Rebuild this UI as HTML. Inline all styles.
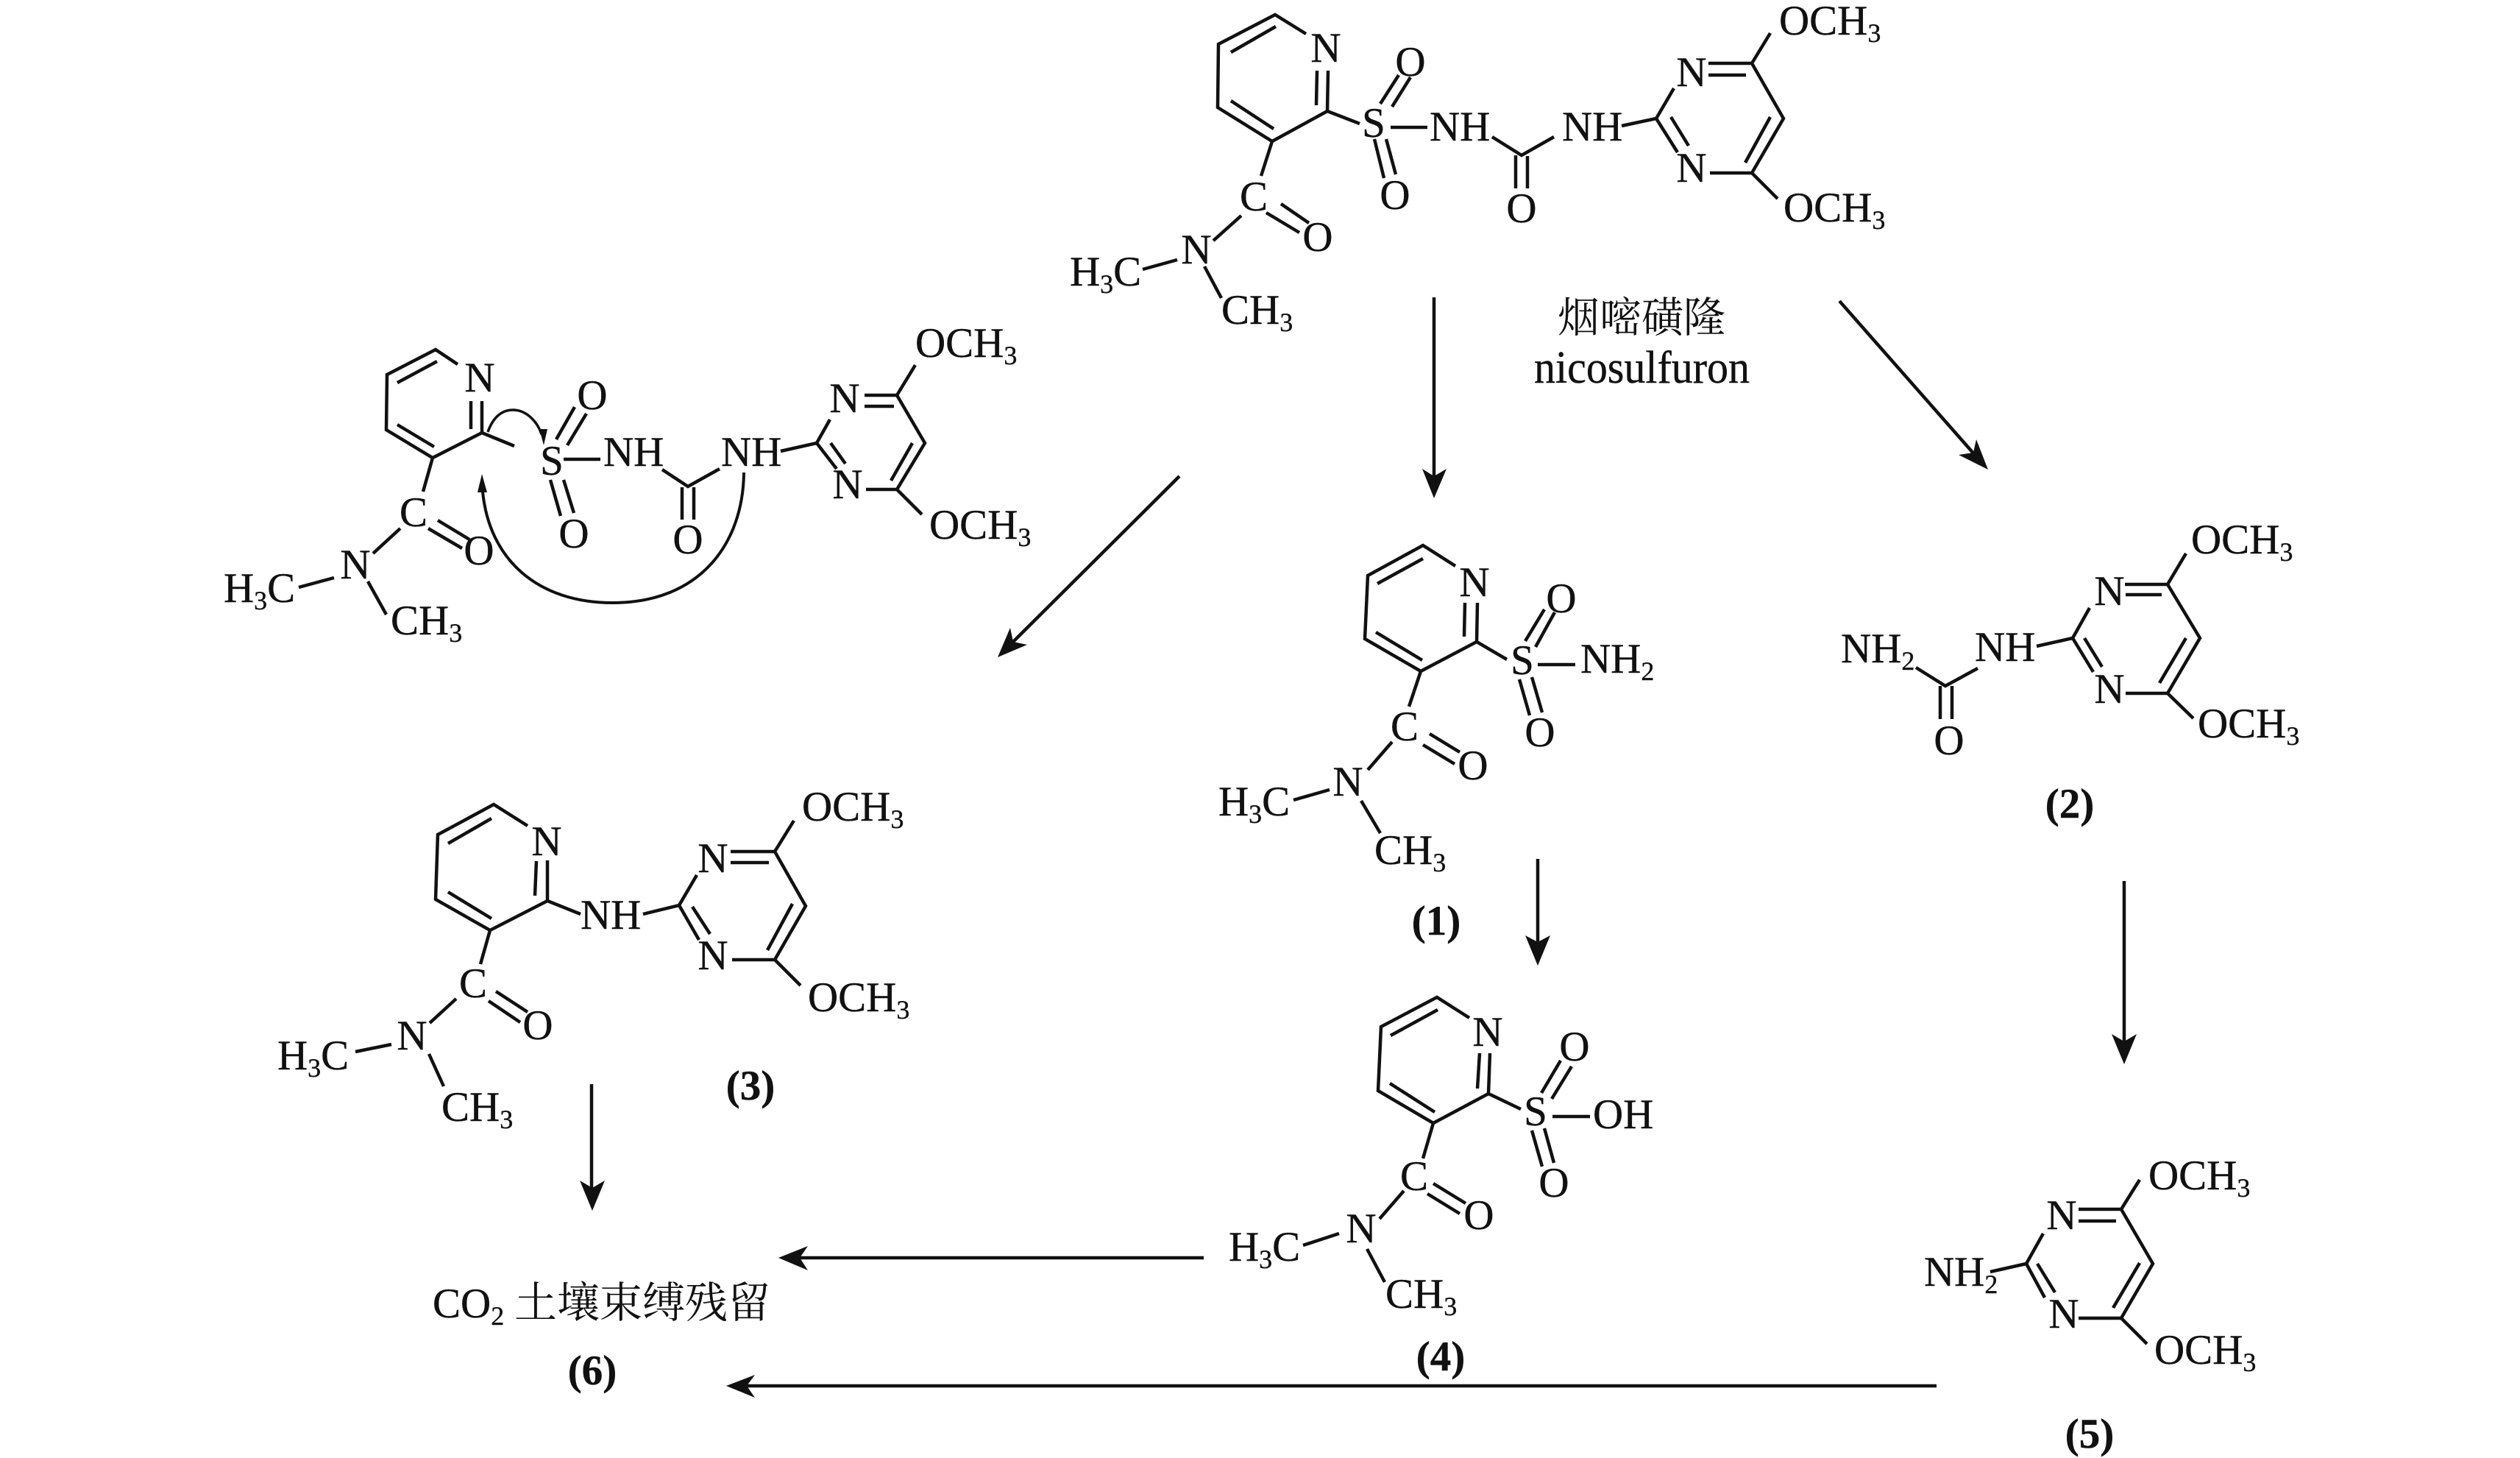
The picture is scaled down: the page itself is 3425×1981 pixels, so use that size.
<!DOCTYPE html>
<html lang="zh">
<head>
<meta charset="utf-8">
<title>nicosulfuron degradation pathway</title>
<style>
html,body{margin:0;padding:0;background:#fff;width:3425px;height:1981px;overflow:hidden}
svg{display:block}
text{font-family:"Liberation Serif","Noto Serif CJK SC",serif;font-size:57px;fill:#111;stroke:#111;stroke-width:.4px}
.m{text-anchor:middle}
.b{font-weight:bold;text-anchor:middle}
.s{font-size:36px}
.cjk{font-family:"Liberation Serif","Noto Serif CJK SC",serif;font-size:57px;stroke:none}
path.l{fill:none;stroke:#111;stroke-width:4.5;stroke-linecap:butt;stroke-linejoin:miter}
polygon{fill:#111}
</style>
</head>
<body>
<svg xmlns="http://www.w3.org/2000/svg" width="3425" height="1981" viewBox="0 0 3425 1981">
<rect width="3425" height="1981" fill="#fff"/>

<!-- Nicosulfuron -->
<path class="l" d="M1775 46L1733 20L1656 60L1655 146L1729 192L1804 151L1805 96M1734 36L1673 71M1673 137L1731 175M1790 96L1789 143
M1804 151L1848 168M1876 141L1901 102M1892 145L1917 105M1868 189L1881 242M1884 189L1897 237M1890 173L1940 173
M2028 186L2068 211L2112 186M2060 211L2060 256M2076 212L2076 256M2204 171L2251 161L2275 120M2322 86L2381 86L2424 161L2381 235L2324 235M2322 102L2373 102M2406 159L2372 221M2251 161L2280 207M2271 159L2295 198
M2381 86L2406 45M2381 235L2416 270
M1729 192L1714 239M1741 277L1779 303M1721 289L1766 316M1687 293L1649 327M1600 353L1553 366M1637 362L1660 405"/>
<text class="m" x="1802" y="84">N</text>
<text class="m" x="1867" y="186">S</text>
<text class="m" x="1917" y="103">O</text>
<text class="m" x="1896" y="284">O</text>
<text x="1943" y="191">NH</text>
<text x="2123" y="191">NH</text>
<text class="m" x="2068" y="302">O</text>
<text class="m" x="2299" y="117">N</text>
<text class="m" x="2299" y="247">N</text>
<text x="2418" y="47">OCH<tspan class="s" dy="10">3</tspan></text>
<text x="2424" y="301">OCH<tspan class="s" dy="10">3</tspan></text>
<text class="m" x="1704" y="286">C</text>
<text class="m" x="1791" y="341">O</text>
<text class="m" x="1626" y="358">N</text>
<text x="1454" y="388">H<tspan class="s" dy="10">3</tspan><tspan dy="-10">C</tspan></text>
<text x="1660" y="440">CH<tspan class="s" dy="10">3</tspan></text>
<text class="cjk" x="2117" y="451">烟嘧磺隆</text>
<text x="2085" y="520" style="font-size:62px" textLength="293" lengthAdjust="spacingAndGlyphs">nicosulfuron</text>

<!-- Intermediate with rearrangement -->
<path class="l" d="M622 495L592 475L526 509L525 584L588 622L655 588L655 545M594 491L540 520M540 577L590 607M640 583L640 545M655 588L699 606
M756 597L781 553M771 605L797 562M748 652L762 701M766 652L780 697M766 624L816 624
M900 638L935 661L978 637M927 662L927 706M943 662L943 706M1061 613L1110 602L1128 570M1175 537L1219 537L1257 602L1219 665L1177 665M1175 552L1215 552M1240 602L1211 653M1110 602L1137 637M1129 602L1149 630
M1219 537L1244 496M1219 665L1253 699
M588 622L575 668M595 707L638 733M582 718L628 745M544 718L507 752M454 785L406 798M500 790L525 835"/>
<path class="l" style="stroke-width:3.5" d="M663 587C670 567 682 557 697 557C715 557 730 572 736 590"/>
<polygon points="739,605 733,583 744,583"/>
<path class="l" style="stroke-width:4" d="M1011 642C1010 740 950 819 833 819C730 819 665 760 656 668"/>
<polygon points="655,644 649,669 662,669"/>
<text class="m" x="652" y="532">N</text>
<text class="m" x="750" y="645">S</text>
<text class="m" x="805" y="556">O</text>
<text class="m" x="780" y="744">O</text>
<text x="820" y="633">NH</text>
<text x="980" y="633">NH</text>
<text class="m" x="935" y="752">O</text>
<text class="m" x="1148" y="560">N</text>
<text class="m" x="1152" y="677">N</text>
<text x="1244" y="485">OCH<tspan class="s" dy="10">3</tspan></text>
<text x="1263" y="732">OCH<tspan class="s" dy="10">3</tspan></text>
<text class="m" x="562" y="715">C</text>
<text class="m" x="651" y="767">O</text>
<text class="m" x="483" y="786">N</text>
<text x="304" y="818">H<tspan class="s" dy="10">3</tspan><tspan dy="-10">C</tspan></text>
<text x="531" y="862">CH<tspan class="s" dy="10">3</tspan></text>

<!-- (1) -->
<path class="l" d="M1978 769L1934 741L1859 782L1855 868L1931 912L2007 872L2008 819M1934 759L1872 793M1870 859L1933 897M1991 819L1990 865
M2007 872L2048 896M2073 871L2099 828M2087 879L2113 832M2065 923L2079 972M2082 920L2096 968M2090 903L2141 903
M1931 912L1915 960M1943 997L1984 1022M1934 1012L1977 1038M1892 1008L1859 1046M1807 1073L1758 1087M1850 1088L1876 1132"/>
<text class="m" x="2004" y="810">N</text>
<text class="m" x="2069" y="916">S</text>
<text class="m" x="2122" y="832">O</text>
<text class="m" x="2093" y="1014">O</text>
<text x="2148" y="914">NH<tspan class="s" dy="10">2</tspan></text>
<text class="m" x="1909" y="1006">C</text>
<text class="m" x="2002" y="1059">O</text>
<text class="m" x="1832" y="1081">N</text>
<text x="1656" y="1108">H<tspan class="s" dy="10">3</tspan><tspan dy="-10">C</tspan></text>
<text x="1868" y="1174">CH<tspan class="s" dy="10">3</tspan></text>
<text class="b" x="1952" y="1270">(1)</text>

<!-- (2) -->
<path class="l" d="M2817 867L2840 826M2888 794L2946 794L2990 867L2946 942L2889 942M2889 808L2938 808M2971 867L2935 928M2817 867L2845 913M2833 867L2857 906
M2946 794L2971 752M2946 942L2981 976M2768 878L2817 867M2688 908L2644 932L2604 907M2637 932L2637 977M2653 932L2653 977"/>
<text class="m" x="2867" y="822">N</text>
<text class="m" x="2867" y="955">N</text>
<text x="2978" y="752">OCH<tspan class="s" dy="10">3</tspan></text>
<text x="2987" y="1002">OCH<tspan class="s" dy="10">3</tspan></text>
<text x="2684" y="898">NH</text>
<text class="m" x="2649" y="1025">O</text>
<text x="2502" y="900">NH<tspan class="s" dy="10">2</tspan></text>
<text class="b" x="2813" y="1111">(2)</text>

<!-- (3) -->
<path class="l" d="M717 1122L671 1093L595 1134L592 1222L666 1264L744 1224L744 1169M668 1112L609 1146M609 1212L668 1248M729 1170L727 1217
M744 1224L789 1242M874 1242L923 1230L947 1189M993 1157L1053 1157L1095 1231L1053 1304L995 1304M993 1172L1045 1172M1077 1228L1043 1291M923 1230L950 1277M941 1232L965 1269
M1053 1157L1079 1115M1053 1304L1088 1339
M666 1264L653 1310M674 1347L717 1375M664 1360L707 1389M620 1357L584 1390M532 1419L483 1429M583 1432L603 1476"/>
<text class="m" x="743" y="1162">N</text>
<text x="789" y="1262">NH</text>
<text class="m" x="969" y="1185">N</text>
<text class="m" x="969" y="1317">N</text>
<text x="1090" y="1115">OCH<tspan class="s" dy="10">3</tspan></text>
<text x="1098" y="1374">OCH<tspan class="s" dy="10">3</tspan></text>
<text class="m" x="643" y="1355">C</text>
<text class="m" x="731" y="1412">O</text>
<text class="m" x="560" y="1426">N</text>
<text x="377" y="1453">H<tspan class="s" dy="10">3</tspan><tspan dy="-10">C</tspan></text>
<text x="600" y="1523">CH<tspan class="s" dy="10">3</tspan></text>
<text class="b" x="1020" y="1494">(3)</text>

<!-- (4) -->
<path class="l" d="M1997 1383L1953 1355L1877 1395L1873 1482L1948 1526L2023 1486L2025 1431M1954 1372L1890 1407M1889 1472L1950 1511M2011 1431L2008 1479
M2023 1486L2067 1507M2095 1485L2121 1441M2109 1493L2136 1449M2082 1536L2096 1585M2099 1533L2112 1580M2110 1517L2161 1517
M1948 1526L1934 1574M1948 1608L1992 1635M1940 1622L1984 1649M1908 1618L1875 1656M1820 1676L1771 1692M1858 1697L1882 1742"/>
<text class="m" x="2022" y="1421">N</text>
<text class="m" x="2087" y="1529">S</text>
<text class="m" x="2140" y="1441">O</text>
<text class="m" x="2112" y="1626">O</text>
<text x="2165" y="1533">OH</text>
<text class="m" x="1922" y="1617">C</text>
<text class="m" x="2010" y="1670">O</text>
<text class="m" x="1850" y="1688">N</text>
<text x="1670" y="1713">H<tspan class="s" dy="10">3</tspan><tspan dy="-10">C</tspan></text>
<text x="1883" y="1777">CH<tspan class="s" dy="10">3</tspan></text>
<text class="b" x="1958" y="1862">(4)</text>

<!-- (5) -->
<path class="l" d="M2754 1717L2777 1676M2825 1643L2883 1643L2926 1717L2883 1791L2825 1791M2825 1659L2876 1659M2908 1716L2872 1777M2754 1717L2779 1763M2769 1717L2793 1756
M2883 1643L2908 1603M2883 1791L2918 1826M2705 1728L2754 1717"/>
<text class="m" x="2802" y="1670">N</text>
<text class="m" x="2805" y="1804">N</text>
<text x="2920" y="1616">OCH<tspan class="s" dy="10">3</tspan></text>
<text x="2928" y="1853">OCH<tspan class="s" dy="10">3</tspan></text>
<text x="2615" y="1747">NH<tspan class="s" dy="10">2</tspan></text>
<text class="b" x="2840" y="1967">(5)</text>

<!-- (6) -->
<text x="588" y="1790">CO<tspan class="s" dy="10">2</tspan></text>
<text class="cjk" x="699" y="1790" style="font-size:58px">土壤束缚残留</text>
<text class="b" x="805" y="1881">(6)</text>

<!-- Arrows -->
<path class="l" d="M1949 404L1949 650"/>
<polygon points="1949,677 1933,637 1949,647 1966,637"/>
<path class="l" d="M2500 409L2684 618"/>
<polygon points="2702,638 2686,597 2682,615 2662,618"/>
<path class="l" d="M1603 647L1375 874"/>
<polygon points="1356,893 1373,853 1377,872 1396,876"/>
<path class="l" d="M2090 1167L2090 1285"/>
<polygon points="2090,1312 2073,1271 2090,1280 2107,1271"/>
<path class="l" d="M2887 1197L2887 1420"/>
<polygon points="2887,1446 2870,1405 2887,1415 2904,1405"/>
<path class="l" d="M804 1473L804 1620"/>
<polygon points="805,1645 788,1604 805,1614 822,1604"/>
<path class="l" d="M1636 1709L1085 1709"/>
<polygon points="1058,1709 1098,1693 1087,1709 1098,1726"/>
<path class="l" d="M2632 1883L1012 1883"/>
<polygon points="987,1883 1026,1868 1015,1883 1026,1899"/>
</svg>
</body>
</html>
